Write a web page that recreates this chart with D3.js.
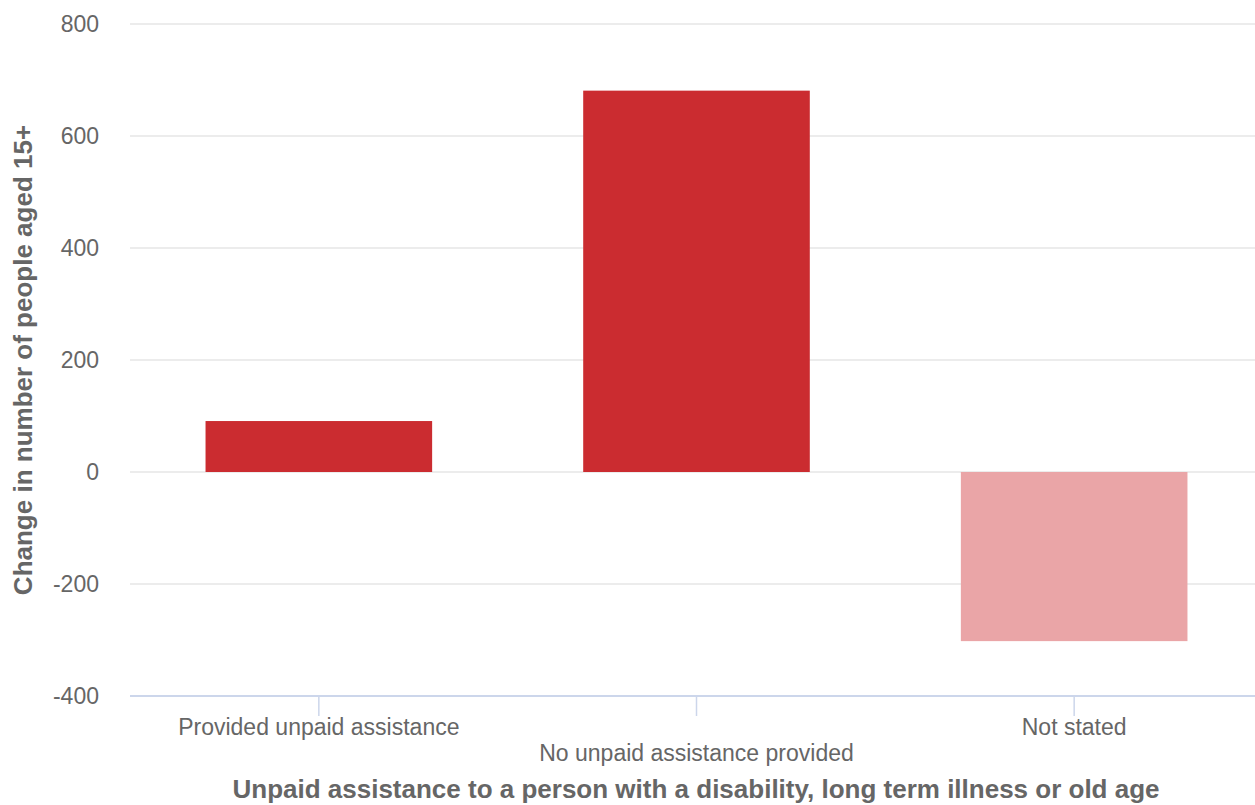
<!DOCTYPE html>
<html><head><meta charset="utf-8">
<script src="https://cdn.jsdelivr.net/npm/d3@7"></script>
<style>body{margin:0;background:#fff;} text{font-family:"Liberation Sans",Arial,sans-serif;}</style>
</head><body><svg id="c" width="1255" height="805"></svg>
<script>
const categories = ["Provided unpaid assistance", "No unpaid assistance provided", "Not stated"];
const values = [91, 681, -302];
const barColors = ["#cb2c30", "#cb2c30", "#eaa5a7"];
const yTicks = [-400, -200, 0, 200, 400, 600, 800];
const yTitle = "Change in number of people aged 15+";
const xTitle = "Unpaid assistance to a person with a disability, long term illness or old age";

(function () {
const svg = d3.select("#c");
const mLeft = 130, mRight = 1263, mTop = 24, mBottom = 696;
const x = d3.scaleBand().domain(categories).range([mLeft, mRight]).paddingInner(0.4).paddingOuter(0.2);
const y = d3.scaleLinear().domain([-400, 800]).range([mBottom, mTop]);

// gridlines
svg.append("g").selectAll("line").data(yTicks.filter(t => t !== -400)).join("line")
  .attr("x1", mLeft).attr("x2", 1255).attr("y1", d => y(d)).attr("y2", d => y(d))
  .attr("stroke", "#e6e6e6").attr("stroke-width", 1.5);

// y labels
svg.append("g").selectAll("text").data(yTicks).join("text")
  .attr("x", 99).attr("y", d => y(d) + 8).attr("text-anchor", "end")
  .attr("font-size", 23).attr("fill", "#666").text(d => d);

// bars
svg.append("g").selectAll("rect").data(values).join("rect")
  .attr("x", (d, i) => x(categories[i])).attr("width", x.bandwidth())
  .attr("y", d => y(Math.max(0, d))).attr("height", d => Math.abs(y(d) - y(0)))
  .attr("fill", (d, i) => barColors[i]);

// x axis line
svg.append("line").attr("x1", mLeft).attr("x2", 1255).attr("y1", mBottom).attr("y2", mBottom)
  .attr("stroke", "#ccd6eb").attr("stroke-width", 2);
// ticks
svg.append("g").selectAll("line").data(categories).join("line")
  .attr("x1", d => x(d) + x.bandwidth() / 2).attr("x2", d => x(d) + x.bandwidth() / 2)
  .attr("y1", mBottom).attr("y2", mBottom + 20).attr("stroke", "#ccd6eb").attr("stroke-width", 1.5);
// x labels (staggered)
svg.append("g").selectAll("text").data(categories).join("text")
  .attr("x", d => x(d) + x.bandwidth() / 2).attr("y", (d, i) => i % 2 ? 761 : 735)
  .attr("text-anchor", "middle").attr("font-size", 23).attr("fill", "#666").text(d => d);

// axis titles
svg.append("text").attr("x", 696).attr("y", 798).attr("text-anchor", "middle")
  .attr("font-size", 26).attr("font-weight", "bold").attr("fill", "#666").text(xTitle);
svg.append("text").attr("transform", "translate(32,360) rotate(-90)").attr("text-anchor", "middle")
  .attr("font-size", 26).attr("font-weight", "bold").attr("fill", "#666").text(yTitle);
})();
</script></body></html>
